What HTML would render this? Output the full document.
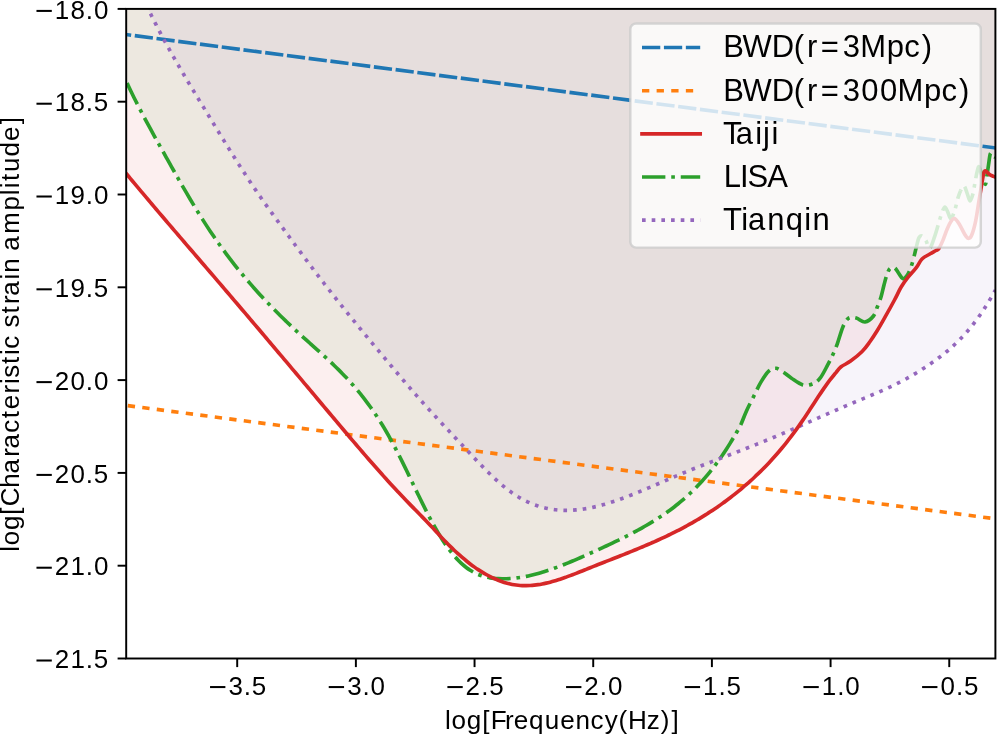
<!DOCTYPE html><html><head><meta charset="utf-8"><style>html,body{margin:0;padding:0;background:#fff;width:997px;height:734px;overflow:hidden}svg{display:block;will-change:transform}text{font-family:"Liberation Sans",sans-serif}</style></head><body>
<svg width="997" height="734" viewBox="0 0 997 734">
<rect width="997" height="734" fill="#fff"/>
<defs><clipPath id="ax"><rect x="126.20" y="8.90" width="869.20" height="649.60"/></clipPath></defs>
<g clip-path="url(#ax)">
<path d="M126.20,81.31 C126.87,82.72 128.87,86.99 130.20,89.76 C131.53,92.53 132.87,95.25 134.20,97.93 C135.53,100.62 136.87,103.25 138.20,105.86 C139.53,108.46 140.87,111.03 142.20,113.57 C143.53,116.11 144.87,118.62 146.20,121.10 C147.53,123.59 148.87,126.05 150.20,128.49 C151.53,130.94 152.87,133.36 154.20,135.77 C155.53,138.19 156.87,140.58 158.20,142.98 C159.53,145.37 160.87,147.75 162.20,150.14 C163.53,152.52 164.87,154.91 166.20,157.29 C167.53,159.67 168.87,162.05 170.20,164.42 C171.53,166.79 172.87,169.16 174.20,171.52 C175.53,173.88 176.87,176.23 178.20,178.57 C179.53,180.91 180.87,183.24 182.20,185.55 C183.53,187.87 184.87,190.17 186.20,192.45 C187.53,194.74 188.87,197.01 190.20,199.26 C191.53,201.50 192.87,203.73 194.20,205.94 C195.53,208.15 196.87,210.33 198.20,212.49 C199.53,214.65 200.87,216.79 202.20,218.89 C203.53,221.00 204.87,223.08 206.20,225.13 C207.53,227.18 208.87,229.20 210.20,231.19 C211.53,233.18 212.87,235.15 214.20,237.09 C215.53,239.03 216.87,240.94 218.20,242.83 C219.53,244.72 220.87,246.58 222.20,248.42 C223.53,250.25 224.87,252.07 226.20,253.86 C227.53,255.64 228.87,257.41 230.20,259.15 C231.53,260.89 232.87,262.61 234.20,264.31 C235.53,266.01 236.87,267.68 238.20,269.34 C239.53,270.99 240.87,272.63 242.20,274.24 C243.53,275.85 244.87,277.44 246.20,279.02 C247.53,280.59 248.87,282.15 250.20,283.68 C251.53,285.22 252.87,286.74 254.20,288.24 C255.53,289.74 256.87,291.22 258.20,292.69 C259.53,294.16 260.87,295.61 262.20,297.04 C263.53,298.47 264.87,299.89 266.20,301.30 C267.53,302.70 268.87,304.09 270.20,305.47 C271.53,306.84 272.87,308.20 274.20,309.55 C275.53,310.90 276.87,312.24 278.20,313.56 C279.53,314.89 280.87,316.20 282.20,317.50 C283.53,318.80 284.87,320.09 286.20,321.37 C287.53,322.65 288.87,323.92 290.20,325.18 C291.53,326.44 292.87,327.69 294.20,328.94 C295.53,330.18 296.87,331.41 298.20,332.64 C299.53,333.87 300.87,335.09 302.20,336.30 C303.53,337.51 304.87,338.72 306.20,339.92 C307.53,341.12 308.87,342.32 310.20,343.51 C311.53,344.71 312.87,345.90 314.20,347.09 C315.53,348.28 316.87,349.47 318.20,350.67 C319.53,351.87 320.87,353.07 322.20,354.28 C323.53,355.50 324.87,356.71 326.20,357.94 C327.53,359.17 328.87,360.41 330.20,361.66 C331.53,362.92 332.87,364.18 334.20,365.47 C335.53,366.76 336.87,368.06 338.20,369.38 C339.53,370.70 340.87,372.05 342.20,373.41 C343.53,374.78 344.87,376.17 346.20,377.59 C347.53,379.01 348.87,380.45 350.20,381.93 C351.53,383.41 352.87,384.91 354.20,386.45 C355.53,387.99 356.87,389.56 358.20,391.17 C359.53,392.78 360.87,394.43 362.20,396.12 C363.53,397.80 364.87,399.53 366.20,401.30 C367.53,403.07 368.87,404.88 370.20,406.74 C371.53,408.60 372.87,410.51 374.20,412.46 C375.53,414.42 376.87,416.42 378.20,418.48 C379.53,420.54 380.87,422.65 382.20,424.82 C383.53,426.99 384.87,429.21 386.20,431.49 C387.53,433.78 388.87,436.12 390.20,438.52 C391.53,440.93 392.87,443.40 394.20,445.92 C395.53,448.45 396.87,451.04 398.20,453.66 C399.53,456.28 400.87,458.95 402.20,461.65 C403.53,464.34 404.87,467.08 406.20,469.82 C407.53,472.56 408.87,475.34 410.20,478.10 C411.53,480.87 412.87,483.66 414.20,486.43 C415.53,489.20 416.87,491.97 418.20,494.72 C419.53,497.46 420.87,500.20 422.20,502.90 C423.53,505.60 424.87,508.28 426.20,510.90 C427.53,513.52 428.87,516.11 430.20,518.63 C431.53,521.14 432.87,523.61 434.20,526.00 C435.53,528.39 436.87,530.70 438.20,532.94 C439.53,535.18 440.87,537.34 442.20,539.41 C443.53,541.49 444.87,543.49 446.20,545.41 C447.53,547.32 448.87,549.15 450.20,550.90 C451.53,552.64 452.87,554.30 454.20,555.87 C455.53,557.44 456.87,558.92 458.20,560.31 C459.53,561.70 460.87,563.00 462.20,564.20 C463.53,565.41 464.87,566.51 466.20,567.53 C467.53,568.56 468.87,569.48 470.20,570.33 C471.53,571.18 472.87,571.94 474.20,572.64 C475.53,573.33 476.87,573.95 478.20,574.50 C479.53,575.05 480.87,575.53 482.20,575.96 C483.53,576.39 484.87,576.75 486.20,577.07 C487.53,577.38 488.87,577.64 490.20,577.86 C491.53,578.08 492.87,578.24 494.20,578.38 C495.53,578.52 496.87,578.61 498.20,578.68 C499.53,578.75 500.87,578.78 502.20,578.79 C503.53,578.81 504.87,578.79 506.20,578.75 C507.53,578.71 508.87,578.64 510.20,578.55 C511.53,578.46 512.87,578.35 514.20,578.21 C515.53,578.07 516.87,577.91 518.20,577.73 C519.53,577.55 520.87,577.34 522.20,577.12 C523.53,576.89 524.87,576.64 526.20,576.38 C527.53,576.11 528.87,575.83 530.20,575.52 C531.53,575.22 532.87,574.90 534.20,574.56 C535.53,574.22 536.87,573.86 538.20,573.49 C539.53,573.11 540.87,572.72 542.20,572.32 C543.53,571.92 544.87,571.49 546.20,571.06 C547.53,570.63 548.87,570.18 550.20,569.72 C551.53,569.26 552.87,568.79 554.20,568.30 C555.53,567.82 556.87,567.32 558.20,566.82 C559.53,566.31 560.87,565.80 562.20,565.27 C563.53,564.75 564.87,564.21 566.20,563.67 C567.53,563.12 568.87,562.57 570.20,562.02 C571.53,561.46 572.87,560.89 574.20,560.32 C575.53,559.75 576.87,559.17 578.20,558.59 C579.53,558.01 580.87,557.43 582.20,556.84 C583.53,556.25 584.87,555.66 586.20,555.06 C587.53,554.47 588.87,553.87 590.20,553.27 C591.53,552.68 592.87,552.08 594.20,551.48 C595.53,550.87 596.87,550.27 598.20,549.66 C599.53,549.06 600.87,548.45 602.20,547.84 C603.53,547.22 604.87,546.61 606.20,545.99 C607.53,545.37 608.87,544.74 610.20,544.11 C611.53,543.49 612.87,542.85 614.20,542.21 C615.53,541.57 616.87,540.93 618.20,540.28 C619.53,539.63 620.87,538.97 622.20,538.31 C623.53,537.65 624.87,536.98 626.20,536.30 C627.53,535.62 628.87,534.94 630.20,534.25 C631.53,533.56 632.87,532.86 634.20,532.15 C635.53,531.44 636.87,530.72 638.20,530.00 C639.53,529.27 640.87,528.54 642.20,527.79 C643.53,527.04 644.87,526.29 646.20,525.52 C647.53,524.75 648.87,523.97 650.20,523.18 C651.53,522.38 652.87,521.58 654.20,520.75 C655.53,519.93 656.87,519.09 658.20,518.23 C659.53,517.37 660.87,516.49 662.20,515.60 C663.53,514.70 664.87,513.79 666.20,512.85 C667.53,511.91 668.87,510.95 670.20,509.97 C671.53,508.99 672.87,507.98 674.20,506.95 C675.53,505.92 676.87,504.86 678.20,503.78 C679.53,502.69 680.87,501.58 682.20,500.44 C683.53,499.30 684.87,498.13 686.20,496.93 C687.53,495.73 688.87,494.50 690.20,493.23 C691.53,491.97 692.87,490.67 694.20,489.34 C695.53,488.00 696.87,486.64 698.20,485.23 C699.53,483.83 700.87,482.39 702.20,480.91 C703.53,479.42 704.87,477.91 706.20,476.35 C707.53,474.79 708.87,473.19 710.20,471.54 C711.53,469.90 712.87,468.22 714.20,466.48 C715.53,464.75 716.87,462.98 718.20,461.14 C719.53,459.31 720.87,457.43 722.20,455.49 C723.53,453.55 724.87,451.56 726.20,449.50 C727.53,447.45 728.87,445.33 730.20,443.15 C731.53,440.97 733.40,437.76 734.20,436.41 C735.00,435.05 734.57,435.74 735.00,435.01 C735.43,434.27 735.82,433.75 736.80,432.00 C737.78,430.25 739.27,428.05 740.90,424.50 C742.53,420.95 744.30,415.72 746.60,410.70 C748.90,405.68 752.32,399.17 754.70,394.40 C757.08,389.63 758.52,386.02 760.90,382.10 C763.28,378.18 766.45,373.20 769.00,370.90 C771.55,368.60 773.73,368.03 776.20,368.30 C778.67,368.57 781.25,370.85 783.80,372.50 C786.35,374.15 788.32,376.13 791.50,378.20 C794.68,380.27 799.42,383.93 802.90,384.90 C806.38,385.87 809.53,385.12 812.40,384.00 C815.27,382.88 817.55,381.38 820.10,378.20 C822.65,375.02 825.48,369.03 827.70,364.90 C829.92,360.77 831.80,356.90 833.40,353.40 C835.00,349.90 835.70,348.35 837.30,343.90 C838.90,339.45 841.10,331.00 843.00,326.70 C844.90,322.40 846.48,319.53 848.70,318.10 C850.92,316.67 853.58,317.45 856.30,318.10 C859.02,318.75 862.13,322.35 865.00,322.00 C867.87,321.65 871.45,318.50 873.50,316.00 C875.55,313.50 876.05,310.17 877.30,307.00 C878.55,303.83 879.88,300.67 881.00,297.00 C882.12,293.33 883.00,288.75 884.00,285.00 C885.00,281.25 886.00,277.25 887.00,274.50 C888.00,271.75 888.75,269.63 890.00,268.50 C891.25,267.37 893.07,266.93 894.50,267.70 C895.93,268.47 897.23,271.28 898.60,273.10 C899.97,274.92 901.33,278.13 902.70,278.60 C904.07,279.07 905.45,277.72 906.80,275.90 C908.15,274.08 909.55,271.12 910.80,267.70 C912.05,264.28 913.38,258.82 914.30,255.40 C915.22,251.98 915.52,250.15 916.30,247.20 C917.08,244.25 918.05,239.57 919.00,237.70 C919.95,235.83 920.87,235.55 922.00,236.00 C923.13,236.45 924.48,238.40 925.80,240.40 C927.12,242.40 928.42,248.68 929.90,248.00 C931.38,247.32 933.22,240.52 934.70,236.30 C936.18,232.08 937.55,226.78 938.80,222.70 C940.05,218.62 941.18,214.42 942.20,211.80 C943.22,209.18 943.98,207.00 944.90,207.00 C945.82,207.00 946.67,209.87 947.70,211.80 C948.73,213.73 949.87,219.07 951.10,218.60 C952.33,218.13 953.97,212.42 955.10,209.00 C956.23,205.58 956.98,201.15 957.90,198.10 C958.82,195.05 959.58,192.73 960.60,190.70 C961.62,188.67 962.87,185.33 964.00,185.90 C965.13,186.47 966.38,191.60 967.40,194.10 C968.42,196.60 969.18,200.90 970.10,200.90 C971.02,200.90 972.10,197.05 972.90,194.10 C973.70,191.15 974.22,186.83 974.90,183.20 C975.58,179.57 976.32,175.03 977.00,172.30 C977.68,169.57 978.22,166.35 979.00,166.80 C979.78,167.25 980.67,172.08 981.70,175.00 C982.73,177.92 984.33,184.13 985.20,184.30 C986.07,184.47 986.35,179.22 986.90,176.00 C987.45,172.78 987.97,168.58 988.50,165.00 C989.03,161.42 989.58,156.47 990.10,154.50 C990.62,152.53 991.05,152.95 991.60,153.20 C992.15,153.45 992.77,155.28 993.40,156.00 C994.03,156.72 995.07,157.25 995.40,157.50 L995.40,6.90 L126.20,6.90 Z" fill="#2ca02c" fill-opacity="0.075"/>
<path d="M126.20,173.50 C126.87,174.30 128.87,176.71 130.20,178.32 C131.53,179.92 132.87,181.52 134.20,183.12 C135.53,184.72 136.87,186.31 138.20,187.90 C139.53,189.50 140.87,191.08 142.20,192.67 C143.53,194.26 144.87,195.84 146.20,197.42 C147.53,199.00 148.87,200.58 150.20,202.16 C151.53,203.73 152.87,205.31 154.20,206.88 C155.53,208.45 156.87,210.02 158.20,211.59 C159.53,213.16 160.87,214.73 162.20,216.29 C163.53,217.86 164.87,219.42 166.20,220.98 C167.53,222.54 168.87,224.10 170.20,225.66 C171.53,227.22 172.87,228.78 174.20,230.34 C175.53,231.89 176.87,233.45 178.20,235.00 C179.53,236.56 180.87,238.11 182.20,239.67 C183.53,241.22 184.87,242.77 186.20,244.32 C187.53,245.88 188.87,247.43 190.20,248.98 C191.53,250.53 192.87,252.08 194.20,253.63 C195.53,255.18 196.87,256.73 198.20,258.28 C199.53,259.84 200.87,261.39 202.20,262.94 C203.53,264.49 204.87,266.04 206.20,267.59 C207.53,269.15 208.87,270.70 210.20,272.25 C211.53,273.81 212.87,275.36 214.20,276.91 C215.53,278.47 216.87,280.03 218.20,281.58 C219.53,283.14 220.87,284.70 222.20,286.26 C223.53,287.82 224.87,289.38 226.20,290.94 C227.53,292.50 228.87,294.06 230.20,295.62 C231.53,297.18 232.87,298.75 234.20,300.31 C235.53,301.87 236.87,303.44 238.20,305.01 C239.53,306.57 240.87,308.14 242.20,309.71 C243.53,311.27 244.87,312.84 246.20,314.41 C247.53,315.98 248.87,317.55 250.20,319.12 C251.53,320.69 252.87,322.26 254.20,323.83 C255.53,325.41 256.87,326.98 258.20,328.55 C259.53,330.13 260.87,331.70 262.20,333.27 C263.53,334.85 264.87,336.42 266.20,338.00 C267.53,339.58 268.87,341.15 270.20,342.73 C271.53,344.31 272.87,345.88 274.20,347.46 C275.53,349.04 276.87,350.62 278.20,352.20 C279.53,353.78 280.87,355.36 282.20,356.94 C283.53,358.52 284.87,360.10 286.20,361.68 C287.53,363.26 288.87,364.84 290.20,366.43 C291.53,368.01 292.87,369.59 294.20,371.17 C295.53,372.76 296.87,374.34 298.20,375.93 C299.53,377.51 300.87,379.09 302.20,380.68 C303.53,382.26 304.87,383.85 306.20,385.43 C307.53,387.02 308.87,388.60 310.20,390.19 C311.53,391.78 312.87,393.36 314.20,394.95 C315.53,396.53 316.87,398.12 318.20,399.71 C319.53,401.29 320.87,402.88 322.20,404.47 C323.53,406.06 324.87,407.64 326.20,409.23 C327.53,410.82 328.87,412.41 330.20,413.99 C331.53,415.58 332.87,417.17 334.20,418.76 C335.53,420.34 336.87,421.93 338.20,423.51 C339.53,425.09 340.87,426.68 342.20,428.26 C343.53,429.84 344.87,431.42 346.20,432.99 C347.53,434.57 348.87,436.14 350.20,437.71 C351.53,439.28 352.87,440.85 354.20,442.42 C355.53,443.98 356.87,445.54 358.20,447.10 C359.53,448.65 360.87,450.21 362.20,451.76 C363.53,453.30 364.87,454.85 366.20,456.39 C367.53,457.92 368.87,459.46 370.20,460.99 C371.53,462.51 372.87,464.04 374.20,465.55 C375.53,467.07 376.87,468.58 378.20,470.08 C379.53,471.59 380.87,473.08 382.20,474.57 C383.53,476.06 384.87,477.55 386.20,479.02 C387.53,480.49 388.87,481.96 390.20,483.42 C391.53,484.88 392.87,486.33 394.20,487.77 C395.53,489.22 396.87,490.65 398.20,492.07 C399.53,493.50 400.87,494.91 402.20,496.32 C403.53,497.72 404.87,499.12 406.20,500.50 C407.53,501.89 408.87,503.26 410.20,504.63 C411.53,506.00 412.87,507.35 414.20,508.71 C415.53,510.07 416.87,511.42 418.20,512.78 C419.53,514.13 420.87,515.49 422.20,516.85 C423.53,518.22 424.87,519.59 426.20,520.97 C427.53,522.36 428.87,523.75 430.20,525.16 C431.53,526.57 432.87,528.01 434.20,529.45 C435.53,530.88 436.87,532.35 438.20,533.80 C439.53,535.24 440.87,536.70 442.20,538.13 C443.53,539.55 444.87,540.96 446.20,542.34 C447.53,543.72 448.87,545.07 450.20,546.39 C451.53,547.71 452.87,549.00 454.20,550.26 C455.53,551.52 456.87,552.75 458.20,553.95 C459.53,555.15 460.87,556.33 462.20,557.46 C463.53,558.60 464.87,559.71 466.20,560.79 C467.53,561.87 468.87,562.91 470.20,563.93 C471.53,564.94 472.87,565.92 474.20,566.87 C475.53,567.81 476.87,568.73 478.20,569.61 C479.53,570.49 480.87,571.34 482.20,572.15 C483.53,572.96 484.87,573.74 486.20,574.48 C487.53,575.23 488.87,575.94 490.20,576.61 C491.53,577.28 492.87,577.92 494.20,578.52 C495.53,579.12 496.87,579.68 498.20,580.21 C499.53,580.74 500.87,581.23 502.20,581.68 C503.53,582.13 504.87,582.55 506.20,582.93 C507.53,583.30 508.87,583.64 510.20,583.94 C511.53,584.24 512.87,584.50 514.20,584.72 C515.53,584.94 516.87,585.12 518.20,585.26 C519.53,585.40 520.87,585.50 522.20,585.57 C523.53,585.63 524.87,585.66 526.20,585.65 C527.53,585.64 528.87,585.59 530.20,585.51 C531.53,585.43 532.87,585.32 534.20,585.18 C535.53,585.04 536.87,584.87 538.20,584.67 C539.53,584.47 540.87,584.23 542.20,583.98 C543.53,583.73 544.87,583.44 546.20,583.14 C547.53,582.84 548.87,582.51 550.20,582.16 C551.53,581.81 552.87,581.44 554.20,581.05 C555.53,580.67 556.87,580.26 558.20,579.83 C559.53,579.41 560.87,578.97 562.20,578.52 C563.53,578.06 564.87,577.59 566.20,577.11 C567.53,576.64 568.87,576.14 570.20,575.64 C571.53,575.14 572.87,574.63 574.20,574.12 C575.53,573.60 576.87,573.07 578.20,572.55 C579.53,572.02 580.87,571.49 582.20,570.95 C583.53,570.42 584.87,569.88 586.20,569.34 C587.53,568.81 588.87,568.27 590.20,567.74 C591.53,567.20 592.87,566.67 594.20,566.14 C595.53,565.61 596.87,565.08 598.20,564.56 C599.53,564.03 600.87,563.51 602.20,562.98 C603.53,562.46 604.87,561.94 606.20,561.41 C607.53,560.89 608.87,560.37 610.20,559.85 C611.53,559.32 612.87,558.80 614.20,558.28 C615.53,557.75 616.87,557.23 618.20,556.70 C619.53,556.18 620.87,555.65 622.20,555.12 C623.53,554.59 624.87,554.06 626.20,553.53 C627.53,552.99 628.87,552.46 630.20,551.92 C631.53,551.38 632.87,550.84 634.20,550.30 C635.53,549.75 636.87,549.20 638.20,548.65 C639.53,548.10 640.87,547.54 642.20,546.98 C643.53,546.42 644.87,545.86 646.20,545.29 C647.53,544.72 648.87,544.14 650.20,543.56 C651.53,542.98 652.87,542.39 654.20,541.80 C655.53,541.21 656.87,540.61 658.20,540.00 C659.53,539.40 660.87,538.79 662.20,538.17 C663.53,537.55 664.87,536.92 666.20,536.29 C667.53,535.65 668.87,535.01 670.20,534.36 C671.53,533.71 672.87,533.05 674.20,532.39 C675.53,531.72 676.87,531.04 678.20,530.36 C679.53,529.67 680.87,528.98 682.20,528.27 C683.53,527.57 684.87,526.85 686.20,526.13 C687.53,525.40 688.87,524.67 690.20,523.92 C691.53,523.18 692.87,522.42 694.20,521.65 C695.53,520.88 696.87,520.10 698.20,519.31 C699.53,518.52 700.87,517.71 702.20,516.89 C703.53,516.08 704.87,515.25 706.20,514.41 C707.53,513.56 708.87,512.71 710.20,511.84 C711.53,510.97 712.87,510.09 714.20,509.19 C715.53,508.29 716.87,507.38 718.20,506.46 C719.53,505.53 720.87,504.59 722.20,503.63 C723.53,502.68 724.87,501.71 726.20,500.72 C727.53,499.73 728.87,498.73 730.20,497.71 C731.53,496.69 732.87,495.66 734.20,494.60 C735.53,493.55 736.87,492.48 738.20,491.40 C739.53,490.31 740.87,489.21 742.20,488.08 C743.53,486.96 744.87,485.82 746.20,484.66 C747.53,483.50 748.87,482.32 750.20,481.12 C751.53,479.92 752.87,478.70 754.20,477.46 C755.53,476.22 756.87,474.95 758.20,473.66 C759.53,472.38 760.87,471.07 762.20,469.73 C763.53,468.39 764.87,467.04 766.20,465.65 C767.53,464.26 768.87,462.85 770.20,461.42 C771.53,459.98 772.87,458.51 774.20,457.02 C775.53,455.53 776.87,454.01 778.20,452.46 C779.53,450.91 780.87,449.33 782.20,447.72 C783.53,446.11 784.87,444.47 786.20,442.80 C787.53,441.13 788.87,439.43 790.20,437.69 C791.53,435.95 792.87,434.19 794.20,432.38 C795.53,430.58 796.87,428.74 798.20,426.87 C799.53,425.00 800.87,423.09 802.20,421.15 C803.53,419.21 804.87,417.22 806.20,415.21 C807.53,413.21 808.87,411.16 810.20,409.12 C811.53,407.07 812.87,405.01 814.20,402.96 C815.53,400.92 816.87,398.86 818.20,396.85 C819.53,394.83 820.87,392.82 822.20,390.87 C823.53,388.91 824.87,386.98 826.20,385.12 C827.53,383.26 828.87,381.44 830.20,379.70 C831.53,377.97 833.23,375.90 834.20,374.72 C835.17,373.54 834.85,373.96 836.00,372.64 C837.15,371.32 838.67,368.72 841.10,366.80 C843.53,364.88 847.10,363.65 850.60,361.10 C854.10,358.55 858.92,354.68 862.10,351.50 C865.28,348.32 867.17,345.50 869.70,342.00 C872.23,338.50 874.75,334.63 877.30,330.50 C879.85,326.37 882.13,322.28 885.00,317.20 C887.87,312.12 891.78,305.07 894.50,300.00 C897.22,294.93 899.03,290.60 901.30,286.80 C903.57,283.00 905.60,280.38 908.10,277.20 C910.60,274.02 913.98,270.73 916.30,267.70 C918.62,264.67 919.73,261.28 922.00,259.00 C924.27,256.72 927.57,255.42 929.90,254.00 C932.23,252.58 934.52,251.40 936.00,250.50 C937.48,249.60 937.65,250.28 938.80,248.60 C939.95,246.92 941.53,243.58 942.90,240.40 C944.27,237.22 945.63,232.68 947.00,229.50 C948.37,226.32 949.85,223.12 951.10,221.30 C952.35,219.48 953.15,218.15 954.50,218.60 C955.85,219.05 957.50,221.38 959.20,224.00 C960.90,226.62 963.22,231.92 964.70,234.30 C966.18,236.68 966.97,238.08 968.10,238.30 C969.23,238.52 970.25,238.43 971.50,235.60 C972.75,232.77 974.35,227.08 975.60,221.30 C976.85,215.52 977.98,207.03 979.00,200.90 C980.02,194.77 980.90,189.17 981.70,184.50 C982.50,179.83 983.12,175.17 983.80,172.90 C984.48,170.63 984.90,170.67 985.80,170.90 C986.70,171.13 987.95,173.40 989.20,174.30 C990.45,175.20 992.27,175.85 993.30,176.30 C994.33,176.75 995.05,176.88 995.40,177.00 L995.40,6.90 L126.20,6.90 Z" fill="#d62728" fill-opacity="0.075"/>
<path d="M147.90,8.42 C148.57,9.77 150.57,13.86 151.90,16.53 C153.23,19.20 154.57,21.82 155.90,24.42 C157.23,27.01 158.57,29.57 159.90,32.09 C161.23,34.62 162.57,37.11 163.90,39.58 C165.23,42.05 166.57,44.48 167.90,46.90 C169.23,49.31 170.57,51.69 171.90,54.06 C173.23,56.42 174.57,58.76 175.90,61.08 C177.23,63.40 178.57,65.70 179.90,67.99 C181.23,70.27 182.57,72.54 183.90,74.79 C185.23,77.05 186.57,79.29 187.90,81.52 C189.23,83.74 190.57,85.96 191.90,88.17 C193.23,90.38 194.57,92.58 195.90,94.78 C197.23,96.98 198.57,99.17 199.90,101.36 C201.23,103.55 202.57,105.73 203.90,107.92 C205.23,110.11 206.57,112.30 207.90,114.49 C209.23,116.68 210.57,118.87 211.90,121.05 C213.23,123.24 214.57,125.42 215.90,127.60 C217.23,129.78 218.57,131.96 219.90,134.13 C221.23,136.31 222.57,138.47 223.90,140.63 C225.23,142.79 226.57,144.95 227.90,147.09 C229.23,149.24 230.57,151.38 231.90,153.50 C233.23,155.63 234.57,157.75 235.90,159.85 C237.23,161.96 238.57,164.05 239.90,166.13 C241.23,168.21 242.57,170.28 243.90,172.34 C245.23,174.39 246.57,176.43 247.90,178.45 C249.23,180.47 250.57,182.48 251.90,184.47 C253.23,186.46 254.57,188.43 255.90,190.38 C257.23,192.34 258.57,194.28 259.90,196.20 C261.23,198.13 262.57,200.04 263.90,201.93 C265.23,203.83 266.57,205.71 267.90,207.58 C269.23,209.45 270.57,211.31 271.90,213.15 C273.23,215.00 274.57,216.84 275.90,218.67 C277.23,220.51 278.57,222.33 279.90,224.15 C281.23,225.98 282.57,227.80 283.90,229.62 C285.23,231.44 286.57,233.26 287.90,235.07 C289.23,236.89 290.57,238.71 291.90,240.53 C293.23,242.34 294.57,244.16 295.90,245.97 C297.23,247.78 298.57,249.59 299.90,251.39 C301.23,253.20 302.57,255.00 303.90,256.79 C305.23,258.59 306.57,260.38 307.90,262.16 C309.23,263.95 310.57,265.73 311.90,267.50 C313.23,269.27 314.57,271.04 315.90,272.80 C317.23,274.55 318.57,276.31 319.90,278.05 C321.23,279.79 322.57,281.52 323.90,283.25 C325.23,284.97 326.57,286.69 327.90,288.40 C329.23,290.11 330.57,291.82 331.90,293.51 C333.23,295.21 334.57,296.90 335.90,298.58 C337.23,300.27 338.57,301.94 339.90,303.61 C341.23,305.29 342.57,306.95 343.90,308.61 C345.23,310.27 346.57,311.92 347.90,313.57 C349.23,315.22 350.57,316.87 351.90,318.51 C353.23,320.15 354.57,321.78 355.90,323.41 C357.23,325.04 358.57,326.67 359.90,328.29 C361.23,329.91 362.57,331.53 363.90,333.15 C365.23,334.77 366.57,336.38 367.90,337.99 C369.23,339.60 370.57,341.20 371.90,342.81 C373.23,344.41 374.57,346.02 375.90,347.62 C377.23,349.22 378.57,350.81 379.90,352.41 C381.23,354.01 382.57,355.60 383.90,357.20 C385.23,358.79 386.57,360.39 387.90,361.98 C389.23,363.57 390.57,365.16 391.90,366.75 C393.23,368.34 394.57,369.92 395.90,371.50 C397.23,373.09 398.57,374.66 399.90,376.24 C401.23,377.81 402.57,379.38 403.90,380.95 C405.23,382.51 406.57,384.07 407.90,385.62 C409.23,387.17 410.57,388.72 411.90,390.26 C413.23,391.80 414.57,393.33 415.90,394.85 C417.23,396.37 418.57,397.89 419.90,399.39 C421.23,400.90 422.57,402.39 423.90,403.88 C425.23,405.36 426.57,406.84 427.90,408.31 C429.23,409.77 430.57,411.23 431.90,412.69 C433.23,414.14 434.57,415.58 435.90,417.03 C437.23,418.47 438.57,419.90 439.90,421.33 C441.23,422.76 442.57,424.19 443.90,425.61 C445.23,427.03 446.57,428.45 447.90,429.87 C449.23,431.29 450.57,432.71 451.90,434.13 C453.23,435.54 454.57,436.96 455.90,438.38 C457.23,439.79 458.57,441.21 459.90,442.63 C461.23,444.05 462.57,445.48 463.90,446.90 C465.23,448.33 466.57,449.76 467.90,451.18 C469.23,452.61 470.57,454.04 471.90,455.46 C473.23,456.88 474.57,458.30 475.90,459.70 C477.23,461.11 478.57,462.51 479.90,463.89 C481.23,465.27 482.57,466.65 483.90,468.00 C485.23,469.36 486.57,470.70 487.90,472.01 C489.23,473.33 490.57,474.63 491.90,475.91 C493.23,477.18 494.57,478.43 495.90,479.65 C497.23,480.87 498.57,482.07 499.90,483.23 C501.23,484.39 502.57,485.53 503.90,486.62 C505.23,487.72 506.57,488.78 507.90,489.80 C509.23,490.82 510.57,491.80 511.90,492.74 C513.23,493.68 514.57,494.57 515.90,495.43 C517.23,496.28 518.57,497.10 519.90,497.87 C521.23,498.64 522.57,499.37 523.90,500.07 C525.23,500.76 526.57,501.41 527.90,502.03 C529.23,502.64 530.57,503.22 531.90,503.76 C533.23,504.31 534.57,504.81 535.90,505.28 C537.23,505.75 538.57,506.18 539.90,506.58 C541.23,506.98 542.57,507.34 543.90,507.68 C545.23,508.01 546.57,508.31 547.90,508.57 C549.23,508.84 550.57,509.08 551.90,509.28 C553.23,509.49 554.57,509.66 555.90,509.81 C557.23,509.95 558.57,510.07 559.90,510.16 C561.23,510.24 562.57,510.30 563.90,510.34 C565.23,510.37 566.57,510.37 567.90,510.35 C569.23,510.33 570.57,510.29 571.90,510.22 C573.23,510.15 574.57,510.06 575.90,509.94 C577.23,509.82 578.57,509.68 579.90,509.52 C581.23,509.36 582.57,509.17 583.90,508.97 C585.23,508.76 586.57,508.54 587.90,508.29 C589.23,508.05 590.57,507.78 591.90,507.50 C593.23,507.22 594.57,506.91 595.90,506.60 C597.23,506.28 598.57,505.94 599.90,505.59 C601.23,505.24 602.57,504.87 603.90,504.49 C605.23,504.11 606.57,503.71 607.90,503.31 C609.23,502.90 610.57,502.47 611.90,502.04 C613.23,501.61 614.57,501.16 615.90,500.70 C617.23,500.24 618.57,499.78 619.90,499.30 C621.23,498.82 622.57,498.33 623.90,497.84 C625.23,497.34 626.57,496.84 627.90,496.32 C629.23,495.81 630.57,495.29 631.90,494.76 C633.23,494.24 634.57,493.70 635.90,493.16 C637.23,492.62 638.57,492.08 639.90,491.53 C641.23,490.98 642.57,490.42 643.90,489.86 C645.23,489.30 646.57,488.74 647.90,488.17 C649.23,487.61 650.57,487.04 651.90,486.46 C653.23,485.89 654.57,485.32 655.90,484.74 C657.23,484.17 658.57,483.59 659.90,483.01 C661.23,482.43 662.57,481.85 663.90,481.28 C665.23,480.70 666.57,480.12 667.90,479.55 C669.23,478.97 670.57,478.40 671.90,477.82 C673.23,477.25 674.57,476.68 675.90,476.12 C677.23,475.55 678.57,474.99 679.90,474.43 C681.23,473.87 682.57,473.31 683.90,472.76 C685.23,472.21 686.57,471.66 687.90,471.12 C689.23,470.58 690.57,470.04 691.90,469.50 C693.23,468.97 694.57,468.43 695.90,467.91 C697.23,467.38 698.57,466.85 699.90,466.33 C701.23,465.80 702.57,465.28 703.90,464.76 C705.23,464.24 706.57,463.72 707.90,463.21 C709.23,462.69 710.57,462.18 711.90,461.66 C713.23,461.15 714.57,460.64 715.90,460.13 C717.23,459.62 718.57,459.11 719.90,458.60 C721.23,458.09 722.57,457.58 723.90,457.07 C725.23,456.55 726.57,456.04 727.90,455.53 C729.23,455.02 730.57,454.51 731.90,454.00 C733.23,453.49 734.57,452.97 735.90,452.46 C737.23,451.94 738.57,451.42 739.90,450.91 C741.23,450.39 742.57,449.87 743.90,449.35 C745.23,448.82 746.57,448.30 747.90,447.77 C749.23,447.25 750.57,446.72 751.90,446.19 C753.23,445.66 754.57,445.13 755.90,444.60 C757.23,444.06 758.57,443.53 759.90,442.99 C761.23,442.45 762.57,441.91 763.90,441.37 C765.23,440.82 766.57,440.28 767.90,439.73 C769.23,439.18 770.57,438.63 771.90,438.08 C773.23,437.53 774.57,436.97 775.90,436.42 C777.23,435.86 778.57,435.30 779.90,434.73 C781.23,434.17 782.57,433.60 783.90,433.04 C785.23,432.47 786.57,431.89 787.90,431.32 C789.23,430.74 790.57,430.17 791.90,429.59 C793.23,429.01 794.57,428.42 795.90,427.83 C797.23,427.25 798.57,426.66 799.90,426.07 C801.23,425.48 802.57,424.89 803.90,424.30 C805.23,423.70 806.57,423.11 807.90,422.52 C809.23,421.93 810.57,421.33 811.90,420.74 C813.23,420.15 814.57,419.55 815.90,418.96 C817.23,418.37 818.57,417.78 819.90,417.19 C821.23,416.61 822.57,416.02 823.90,415.43 C825.23,414.85 826.57,414.27 827.90,413.68 C829.23,413.10 830.57,412.52 831.90,411.94 C833.23,411.36 834.57,410.78 835.90,410.21 C837.23,409.63 838.57,409.06 839.90,408.48 C841.23,407.91 842.57,407.34 843.90,406.77 C845.23,406.20 846.57,405.63 847.90,405.06 C849.23,404.50 850.57,403.93 851.90,403.37 C853.23,402.81 854.57,402.24 855.90,401.68 C857.23,401.12 858.57,400.56 859.90,400.01 C861.23,399.45 862.57,398.89 863.90,398.34 C865.23,397.78 866.57,397.23 867.90,396.67 C869.23,396.12 870.57,395.56 871.90,395.00 C873.23,394.44 874.57,393.88 875.90,393.31 C877.23,392.74 878.57,392.17 879.90,391.59 C881.23,391.01 882.57,390.43 883.90,389.83 C885.23,389.24 886.57,388.64 887.90,388.03 C889.23,387.41 890.57,386.80 891.90,386.16 C893.23,385.53 894.57,384.89 895.90,384.23 C897.23,383.57 898.57,382.90 899.90,382.22 C901.23,381.53 902.57,380.83 903.90,380.12 C905.23,379.40 906.57,378.67 907.90,377.92 C909.23,377.17 910.57,376.40 911.90,375.62 C913.23,374.84 914.57,374.04 915.90,373.23 C917.23,372.41 918.57,371.58 919.90,370.74 C921.23,369.90 922.57,369.04 923.90,368.17 C925.23,367.30 926.57,366.41 927.90,365.51 C929.23,364.61 930.57,363.70 931.90,362.77 C933.23,361.84 934.57,360.89 935.90,359.93 C937.23,358.96 938.57,357.97 939.90,356.96 C941.23,355.94 942.57,354.91 943.90,353.84 C945.23,352.77 946.57,351.68 947.90,350.55 C949.23,349.42 950.57,348.26 951.90,347.06 C953.23,345.86 954.57,344.63 955.90,343.35 C957.23,342.08 958.57,340.77 959.90,339.41 C961.23,338.04 962.57,336.64 963.90,335.19 C965.23,333.74 966.57,332.24 967.90,330.69 C969.23,329.13 970.57,327.53 971.90,325.87 C973.23,324.21 974.57,322.50 975.90,320.72 C977.23,318.94 978.57,317.11 979.90,315.21 C981.23,313.31 982.57,311.35 983.90,309.32 C985.23,307.29 986.57,305.19 987.90,303.02 C989.23,300.85 990.65,298.46 991.90,296.29 C993.15,294.13 994.82,291.08 995.40,290.04 L995.40,6.90 L147.90,6.90 Z" fill="#9467bd" fill-opacity="0.075"/>
<line x1="124.20" y1="34.28" x2="997.40" y2="148.15" stroke="#1f77b4" stroke-width="3.65" stroke-dasharray="18.27 3.65" stroke-dashoffset="11.25"/>
<line x1="124.20" y1="405.18" x2="997.40" y2="519.05" stroke="#ff7f0e" stroke-width="3.65" stroke-dasharray="7.31 7.31" stroke-dashoffset="11.01"/>
<path d="M126.20,81.31 C126.87,82.72 128.87,86.99 130.20,89.76 C131.53,92.53 132.87,95.25 134.20,97.93 C135.53,100.62 136.87,103.25 138.20,105.86 C139.53,108.46 140.87,111.03 142.20,113.57 C143.53,116.11 144.87,118.62 146.20,121.10 C147.53,123.59 148.87,126.05 150.20,128.49 C151.53,130.94 152.87,133.36 154.20,135.77 C155.53,138.19 156.87,140.58 158.20,142.98 C159.53,145.37 160.87,147.75 162.20,150.14 C163.53,152.52 164.87,154.91 166.20,157.29 C167.53,159.67 168.87,162.05 170.20,164.42 C171.53,166.79 172.87,169.16 174.20,171.52 C175.53,173.88 176.87,176.23 178.20,178.57 C179.53,180.91 180.87,183.24 182.20,185.55 C183.53,187.87 184.87,190.17 186.20,192.45 C187.53,194.74 188.87,197.01 190.20,199.26 C191.53,201.50 192.87,203.73 194.20,205.94 C195.53,208.15 196.87,210.33 198.20,212.49 C199.53,214.65 200.87,216.79 202.20,218.89 C203.53,221.00 204.87,223.08 206.20,225.13 C207.53,227.18 208.87,229.20 210.20,231.19 C211.53,233.18 212.87,235.15 214.20,237.09 C215.53,239.03 216.87,240.94 218.20,242.83 C219.53,244.72 220.87,246.58 222.20,248.42 C223.53,250.25 224.87,252.07 226.20,253.86 C227.53,255.64 228.87,257.41 230.20,259.15 C231.53,260.89 232.87,262.61 234.20,264.31 C235.53,266.01 236.87,267.68 238.20,269.34 C239.53,270.99 240.87,272.63 242.20,274.24 C243.53,275.85 244.87,277.44 246.20,279.02 C247.53,280.59 248.87,282.15 250.20,283.68 C251.53,285.22 252.87,286.74 254.20,288.24 C255.53,289.74 256.87,291.22 258.20,292.69 C259.53,294.16 260.87,295.61 262.20,297.04 C263.53,298.47 264.87,299.89 266.20,301.30 C267.53,302.70 268.87,304.09 270.20,305.47 C271.53,306.84 272.87,308.20 274.20,309.55 C275.53,310.90 276.87,312.24 278.20,313.56 C279.53,314.89 280.87,316.20 282.20,317.50 C283.53,318.80 284.87,320.09 286.20,321.37 C287.53,322.65 288.87,323.92 290.20,325.18 C291.53,326.44 292.87,327.69 294.20,328.94 C295.53,330.18 296.87,331.41 298.20,332.64 C299.53,333.87 300.87,335.09 302.20,336.30 C303.53,337.51 304.87,338.72 306.20,339.92 C307.53,341.12 308.87,342.32 310.20,343.51 C311.53,344.71 312.87,345.90 314.20,347.09 C315.53,348.28 316.87,349.47 318.20,350.67 C319.53,351.87 320.87,353.07 322.20,354.28 C323.53,355.50 324.87,356.71 326.20,357.94 C327.53,359.17 328.87,360.41 330.20,361.66 C331.53,362.92 332.87,364.18 334.20,365.47 C335.53,366.76 336.87,368.06 338.20,369.38 C339.53,370.70 340.87,372.05 342.20,373.41 C343.53,374.78 344.87,376.17 346.20,377.59 C347.53,379.01 348.87,380.45 350.20,381.93 C351.53,383.41 352.87,384.91 354.20,386.45 C355.53,387.99 356.87,389.56 358.20,391.17 C359.53,392.78 360.87,394.43 362.20,396.12 C363.53,397.80 364.87,399.53 366.20,401.30 C367.53,403.07 368.87,404.88 370.20,406.74 C371.53,408.60 372.87,410.51 374.20,412.46 C375.53,414.42 376.87,416.42 378.20,418.48 C379.53,420.54 380.87,422.65 382.20,424.82 C383.53,426.99 384.87,429.21 386.20,431.49 C387.53,433.78 388.87,436.12 390.20,438.52 C391.53,440.93 392.87,443.40 394.20,445.92 C395.53,448.45 396.87,451.04 398.20,453.66 C399.53,456.28 400.87,458.95 402.20,461.65 C403.53,464.34 404.87,467.08 406.20,469.82 C407.53,472.56 408.87,475.34 410.20,478.10 C411.53,480.87 412.87,483.66 414.20,486.43 C415.53,489.20 416.87,491.97 418.20,494.72 C419.53,497.46 420.87,500.20 422.20,502.90 C423.53,505.60 424.87,508.28 426.20,510.90 C427.53,513.52 428.87,516.11 430.20,518.63 C431.53,521.14 432.87,523.61 434.20,526.00 C435.53,528.39 436.87,530.70 438.20,532.94 C439.53,535.18 440.87,537.34 442.20,539.41 C443.53,541.49 444.87,543.49 446.20,545.41 C447.53,547.32 448.87,549.15 450.20,550.90 C451.53,552.64 452.87,554.30 454.20,555.87 C455.53,557.44 456.87,558.92 458.20,560.31 C459.53,561.70 460.87,563.00 462.20,564.20 C463.53,565.41 464.87,566.51 466.20,567.53 C467.53,568.56 468.87,569.48 470.20,570.33 C471.53,571.18 472.87,571.94 474.20,572.64 C475.53,573.33 476.87,573.95 478.20,574.50 C479.53,575.05 480.87,575.53 482.20,575.96 C483.53,576.39 484.87,576.75 486.20,577.07 C487.53,577.38 488.87,577.64 490.20,577.86 C491.53,578.08 492.87,578.24 494.20,578.38 C495.53,578.52 496.87,578.61 498.20,578.68 C499.53,578.75 500.87,578.78 502.20,578.79 C503.53,578.81 504.87,578.79 506.20,578.75 C507.53,578.71 508.87,578.64 510.20,578.55 C511.53,578.46 512.87,578.35 514.20,578.21 C515.53,578.07 516.87,577.91 518.20,577.73 C519.53,577.55 520.87,577.34 522.20,577.12 C523.53,576.89 524.87,576.64 526.20,576.38 C527.53,576.11 528.87,575.83 530.20,575.52 C531.53,575.22 532.87,574.90 534.20,574.56 C535.53,574.22 536.87,573.86 538.20,573.49 C539.53,573.11 540.87,572.72 542.20,572.32 C543.53,571.92 544.87,571.49 546.20,571.06 C547.53,570.63 548.87,570.18 550.20,569.72 C551.53,569.26 552.87,568.79 554.20,568.30 C555.53,567.82 556.87,567.32 558.20,566.82 C559.53,566.31 560.87,565.80 562.20,565.27 C563.53,564.75 564.87,564.21 566.20,563.67 C567.53,563.12 568.87,562.57 570.20,562.02 C571.53,561.46 572.87,560.89 574.20,560.32 C575.53,559.75 576.87,559.17 578.20,558.59 C579.53,558.01 580.87,557.43 582.20,556.84 C583.53,556.25 584.87,555.66 586.20,555.06 C587.53,554.47 588.87,553.87 590.20,553.27 C591.53,552.68 592.87,552.08 594.20,551.48 C595.53,550.87 596.87,550.27 598.20,549.66 C599.53,549.06 600.87,548.45 602.20,547.84 C603.53,547.22 604.87,546.61 606.20,545.99 C607.53,545.37 608.87,544.74 610.20,544.11 C611.53,543.49 612.87,542.85 614.20,542.21 C615.53,541.57 616.87,540.93 618.20,540.28 C619.53,539.63 620.87,538.97 622.20,538.31 C623.53,537.65 624.87,536.98 626.20,536.30 C627.53,535.62 628.87,534.94 630.20,534.25 C631.53,533.56 632.87,532.86 634.20,532.15 C635.53,531.44 636.87,530.72 638.20,530.00 C639.53,529.27 640.87,528.54 642.20,527.79 C643.53,527.04 644.87,526.29 646.20,525.52 C647.53,524.75 648.87,523.97 650.20,523.18 C651.53,522.38 652.87,521.58 654.20,520.75 C655.53,519.93 656.87,519.09 658.20,518.23 C659.53,517.37 660.87,516.49 662.20,515.60 C663.53,514.70 664.87,513.79 666.20,512.85 C667.53,511.91 668.87,510.95 670.20,509.97 C671.53,508.99 672.87,507.98 674.20,506.95 C675.53,505.92 676.87,504.86 678.20,503.78 C679.53,502.69 680.87,501.58 682.20,500.44 C683.53,499.30 684.87,498.13 686.20,496.93 C687.53,495.73 688.87,494.50 690.20,493.23 C691.53,491.97 692.87,490.67 694.20,489.34 C695.53,488.00 696.87,486.64 698.20,485.23 C699.53,483.83 700.87,482.39 702.20,480.91 C703.53,479.42 704.87,477.91 706.20,476.35 C707.53,474.79 708.87,473.19 710.20,471.54 C711.53,469.90 712.87,468.22 714.20,466.48 C715.53,464.75 716.87,462.98 718.20,461.14 C719.53,459.31 720.87,457.43 722.20,455.49 C723.53,453.55 724.87,451.56 726.20,449.50 C727.53,447.45 728.87,445.33 730.20,443.15 C731.53,440.97 733.40,437.76 734.20,436.41 C735.00,435.05 734.57,435.74 735.00,435.01 C735.43,434.27 735.82,433.75 736.80,432.00 C737.78,430.25 739.27,428.05 740.90,424.50 C742.53,420.95 744.30,415.72 746.60,410.70 C748.90,405.68 752.32,399.17 754.70,394.40 C757.08,389.63 758.52,386.02 760.90,382.10 C763.28,378.18 766.45,373.20 769.00,370.90 C771.55,368.60 773.73,368.03 776.20,368.30 C778.67,368.57 781.25,370.85 783.80,372.50 C786.35,374.15 788.32,376.13 791.50,378.20 C794.68,380.27 799.42,383.93 802.90,384.90 C806.38,385.87 809.53,385.12 812.40,384.00 C815.27,382.88 817.55,381.38 820.10,378.20 C822.65,375.02 825.48,369.03 827.70,364.90 C829.92,360.77 831.80,356.90 833.40,353.40 C835.00,349.90 835.70,348.35 837.30,343.90 C838.90,339.45 841.10,331.00 843.00,326.70 C844.90,322.40 846.48,319.53 848.70,318.10 C850.92,316.67 853.58,317.45 856.30,318.10 C859.02,318.75 862.13,322.35 865.00,322.00 C867.87,321.65 871.45,318.50 873.50,316.00 C875.55,313.50 876.05,310.17 877.30,307.00 C878.55,303.83 879.88,300.67 881.00,297.00 C882.12,293.33 883.00,288.75 884.00,285.00 C885.00,281.25 886.00,277.25 887.00,274.50 C888.00,271.75 888.75,269.63 890.00,268.50 C891.25,267.37 893.07,266.93 894.50,267.70 C895.93,268.47 897.23,271.28 898.60,273.10 C899.97,274.92 901.33,278.13 902.70,278.60 C904.07,279.07 905.45,277.72 906.80,275.90 C908.15,274.08 909.55,271.12 910.80,267.70 C912.05,264.28 913.38,258.82 914.30,255.40 C915.22,251.98 915.52,250.15 916.30,247.20 C917.08,244.25 918.05,239.57 919.00,237.70 C919.95,235.83 920.87,235.55 922.00,236.00 C923.13,236.45 924.48,238.40 925.80,240.40 C927.12,242.40 928.42,248.68 929.90,248.00 C931.38,247.32 933.22,240.52 934.70,236.30 C936.18,232.08 937.55,226.78 938.80,222.70 C940.05,218.62 941.18,214.42 942.20,211.80 C943.22,209.18 943.98,207.00 944.90,207.00 C945.82,207.00 946.67,209.87 947.70,211.80 C948.73,213.73 949.87,219.07 951.10,218.60 C952.33,218.13 953.97,212.42 955.10,209.00 C956.23,205.58 956.98,201.15 957.90,198.10 C958.82,195.05 959.58,192.73 960.60,190.70" fill="none" stroke="#2ca02c" stroke-width="3.65" stroke-linejoin="round" stroke-dasharray="23.39 5.85 3.65 5.85" stroke-dashoffset="36.70"/>
<path d="M960.60,190.70 C961.62,188.67 962.87,185.33 964.00,185.90 C965.13,186.47 966.38,191.60 967.40,194.10 C968.42,196.60 969.18,200.90 970.10,200.90 C971.02,200.90 972.10,197.05 972.90,194.10 C973.70,191.15 974.22,186.83 974.90,183.20 C975.58,179.57 976.32,175.03 977.00,172.30 C977.68,169.57 978.22,166.35 979.00,166.80 C979.78,167.25 980.67,172.08 981.70,175.00 C982.73,177.92 984.33,184.13 985.20,184.30 C986.07,184.47 986.35,179.22 986.90,176.00 C987.45,172.78 987.97,168.58 988.50,165.00 C989.03,161.42 989.58,156.47 990.10,154.50 C990.62,152.53 991.05,152.95 991.60,153.20 C992.15,153.45 992.77,155.28 993.40,156.00 C994.03,156.72 995.07,157.25 995.40,157.50" fill="none" stroke="#2ca02c" stroke-width="3.65" stroke-linejoin="round" stroke-dasharray="23.39 5.85 3.65 5.85" stroke-dashoffset="31.44"/>
<path d="M147.90,8.42 C148.57,9.77 150.57,13.86 151.90,16.53 C153.23,19.20 154.57,21.82 155.90,24.42 C157.23,27.01 158.57,29.57 159.90,32.09 C161.23,34.62 162.57,37.11 163.90,39.58 C165.23,42.05 166.57,44.48 167.90,46.90 C169.23,49.31 170.57,51.69 171.90,54.06 C173.23,56.42 174.57,58.76 175.90,61.08 C177.23,63.40 178.57,65.70 179.90,67.99 C181.23,70.27 182.57,72.54 183.90,74.79 C185.23,77.05 186.57,79.29 187.90,81.52 C189.23,83.74 190.57,85.96 191.90,88.17 C193.23,90.38 194.57,92.58 195.90,94.78 C197.23,96.98 198.57,99.17 199.90,101.36 C201.23,103.55 202.57,105.73 203.90,107.92 C205.23,110.11 206.57,112.30 207.90,114.49 C209.23,116.68 210.57,118.87 211.90,121.05 C213.23,123.24 214.57,125.42 215.90,127.60 C217.23,129.78 218.57,131.96 219.90,134.13 C221.23,136.31 222.57,138.47 223.90,140.63 C225.23,142.79 226.57,144.95 227.90,147.09 C229.23,149.24 230.57,151.38 231.90,153.50 C233.23,155.63 234.57,157.75 235.90,159.85 C237.23,161.96 238.57,164.05 239.90,166.13 C241.23,168.21 242.57,170.28 243.90,172.34 C245.23,174.39 246.57,176.43 247.90,178.45 C249.23,180.47 250.57,182.48 251.90,184.47 C253.23,186.46 254.57,188.43 255.90,190.38 C257.23,192.34 258.57,194.28 259.90,196.20 C261.23,198.13 262.57,200.04 263.90,201.93 C265.23,203.83 266.57,205.71 267.90,207.58 C269.23,209.45 270.57,211.31 271.90,213.15 C273.23,215.00 274.57,216.84 275.90,218.67 C277.23,220.51 278.57,222.33 279.90,224.15 C281.23,225.98 282.57,227.80 283.90,229.62 C285.23,231.44 286.57,233.26 287.90,235.07 C289.23,236.89 290.57,238.71 291.90,240.53 C293.23,242.34 294.57,244.16 295.90,245.97 C297.23,247.78 298.57,249.59 299.90,251.39 C301.23,253.20 302.57,255.00 303.90,256.79 C305.23,258.59 306.57,260.38 307.90,262.16 C309.23,263.95 310.57,265.73 311.90,267.50 C313.23,269.27 314.57,271.04 315.90,272.80 C317.23,274.55 318.57,276.31 319.90,278.05 C321.23,279.79 322.57,281.52 323.90,283.25 C325.23,284.97 326.57,286.69 327.90,288.40 C329.23,290.11 330.57,291.82 331.90,293.51 C333.23,295.21 334.57,296.90 335.90,298.58 C337.23,300.27 338.57,301.94 339.90,303.61 C341.23,305.29 342.57,306.95 343.90,308.61 C345.23,310.27 346.57,311.92 347.90,313.57 C349.23,315.22 350.57,316.87 351.90,318.51 C353.23,320.15 354.57,321.78 355.90,323.41 C357.23,325.04 358.57,326.67 359.90,328.29 C361.23,329.91 362.57,331.53 363.90,333.15 C365.23,334.77 366.57,336.38 367.90,337.99 C369.23,339.60 370.57,341.20 371.90,342.81 C373.23,344.41 374.57,346.02 375.90,347.62 C377.23,349.22 378.57,350.81 379.90,352.41 C381.23,354.01 382.57,355.60 383.90,357.20 C385.23,358.79 386.57,360.39 387.90,361.98 C389.23,363.57 390.57,365.16 391.90,366.75 C393.23,368.34 394.57,369.92 395.90,371.50 C397.23,373.09 398.57,374.66 399.90,376.24 C401.23,377.81 402.57,379.38 403.90,380.95 C405.23,382.51 406.57,384.07 407.90,385.62 C409.23,387.17 410.57,388.72 411.90,390.26 C413.23,391.80 414.57,393.33 415.90,394.85 C417.23,396.37 418.57,397.89 419.90,399.39 C421.23,400.90 422.57,402.39 423.90,403.88 C425.23,405.36 426.57,406.84 427.90,408.31 C429.23,409.77 430.57,411.23 431.90,412.69 C433.23,414.14 434.57,415.58 435.90,417.03 C437.23,418.47 438.57,419.90 439.90,421.33 C441.23,422.76 442.57,424.19 443.90,425.61 C445.23,427.03 446.57,428.45 447.90,429.87 C449.23,431.29 450.57,432.71 451.90,434.13 C453.23,435.54 454.57,436.96 455.90,438.38 C457.23,439.79 458.57,441.21 459.90,442.63 C461.23,444.05 462.57,445.48 463.90,446.90 C465.23,448.33 466.57,449.76 467.90,451.18 C469.23,452.61 470.57,454.04 471.90,455.46 C473.23,456.88 474.57,458.30 475.90,459.70 C477.23,461.11 478.57,462.51 479.90,463.89 C481.23,465.27 482.57,466.65 483.90,468.00 C485.23,469.36 486.57,470.70 487.90,472.01 C489.23,473.33 490.57,474.63 491.90,475.91 C493.23,477.18 494.57,478.43 495.90,479.65 C497.23,480.87 498.57,482.07 499.90,483.23 C501.23,484.39 502.57,485.53 503.90,486.62 C505.23,487.72 506.57,488.78 507.90,489.80 C509.23,490.82 510.57,491.80 511.90,492.74 C513.23,493.68 514.57,494.57 515.90,495.43 C517.23,496.28 518.57,497.10 519.90,497.87 C521.23,498.64 522.57,499.37 523.90,500.07 C525.23,500.76 526.57,501.41 527.90,502.03 C529.23,502.64 530.57,503.22 531.90,503.76 C533.23,504.31 534.57,504.81 535.90,505.28 C537.23,505.75 538.57,506.18 539.90,506.58 C541.23,506.98 542.57,507.34 543.90,507.68 C545.23,508.01 546.57,508.31 547.90,508.57 C549.23,508.84 550.57,509.08 551.90,509.28 C553.23,509.49 554.57,509.66 555.90,509.81 C557.23,509.95 558.57,510.07 559.90,510.16 C561.23,510.24 562.57,510.30 563.90,510.34 C565.23,510.37 566.57,510.37 567.90,510.35 C569.23,510.33 570.57,510.29 571.90,510.22 C573.23,510.15 574.57,510.06 575.90,509.94 C577.23,509.82 578.57,509.68 579.90,509.52 C581.23,509.36 582.57,509.17 583.90,508.97 C585.23,508.76 586.57,508.54 587.90,508.29 C589.23,508.05 590.57,507.78 591.90,507.50 C593.23,507.22 594.57,506.91 595.90,506.60 C597.23,506.28 598.57,505.94 599.90,505.59 C601.23,505.24 602.57,504.87 603.90,504.49 C605.23,504.11 606.57,503.71 607.90,503.31 C609.23,502.90 610.57,502.47 611.90,502.04 C613.23,501.61 614.57,501.16 615.90,500.70 C617.23,500.24 618.57,499.78 619.90,499.30 C621.23,498.82 622.57,498.33 623.90,497.84 C625.23,497.34 626.57,496.84 627.90,496.32 C629.23,495.81 630.57,495.29 631.90,494.76 C633.23,494.24 634.57,493.70 635.90,493.16 C637.23,492.62 638.57,492.08 639.90,491.53 C641.23,490.98 642.57,490.42 643.90,489.86 C645.23,489.30 646.57,488.74 647.90,488.17 C649.23,487.61 650.57,487.04 651.90,486.46 C653.23,485.89 654.57,485.32 655.90,484.74 C657.23,484.17 658.57,483.59 659.90,483.01 C661.23,482.43 662.57,481.85 663.90,481.28 C665.23,480.70 666.57,480.12 667.90,479.55 C669.23,478.97 670.57,478.40 671.90,477.82 C673.23,477.25 674.57,476.68 675.90,476.12 C677.23,475.55 678.57,474.99 679.90,474.43 C681.23,473.87 682.57,473.31 683.90,472.76 C685.23,472.21 686.57,471.66 687.90,471.12 C689.23,470.58 690.57,470.04 691.90,469.50 C693.23,468.97 694.57,468.43 695.90,467.91 C697.23,467.38 698.57,466.85 699.90,466.33 C701.23,465.80 702.57,465.28 703.90,464.76 C705.23,464.24 706.57,463.72 707.90,463.21 C709.23,462.69 710.57,462.18 711.90,461.66 C713.23,461.15 714.57,460.64 715.90,460.13 C717.23,459.62 718.57,459.11 719.90,458.60 C721.23,458.09 722.57,457.58 723.90,457.07 C725.23,456.55 726.57,456.04 727.90,455.53 C729.23,455.02 730.57,454.51 731.90,454.00 C733.23,453.49 734.57,452.97 735.90,452.46 C737.23,451.94 738.57,451.42 739.90,450.91 C741.23,450.39 742.57,449.87 743.90,449.35 C745.23,448.82 746.57,448.30 747.90,447.77 C749.23,447.25 750.57,446.72 751.90,446.19 C753.23,445.66 754.57,445.13 755.90,444.60 C757.23,444.06 758.57,443.53 759.90,442.99 C761.23,442.45 762.57,441.91 763.90,441.37 C765.23,440.82 766.57,440.28 767.90,439.73 C769.23,439.18 770.57,438.63 771.90,438.08 C773.23,437.53 774.57,436.97 775.90,436.42 C777.23,435.86 778.57,435.30 779.90,434.73 C781.23,434.17 782.57,433.60 783.90,433.04 C785.23,432.47 786.57,431.89 787.90,431.32 C789.23,430.74 790.57,430.17 791.90,429.59 C793.23,429.01 794.57,428.42 795.90,427.83 C797.23,427.25 798.57,426.66 799.90,426.07 C801.23,425.48 802.57,424.89 803.90,424.30 C805.23,423.70 806.57,423.11 807.90,422.52 C809.23,421.93 810.57,421.33 811.90,420.74 C813.23,420.15 814.57,419.55 815.90,418.96 C817.23,418.37 818.57,417.78 819.90,417.19 C821.23,416.61 822.57,416.02 823.90,415.43 C825.23,414.85 826.57,414.27 827.90,413.68 C829.23,413.10 830.57,412.52 831.90,411.94 C833.23,411.36 834.57,410.78 835.90,410.21 C837.23,409.63 838.57,409.06 839.90,408.48 C841.23,407.91 842.57,407.34 843.90,406.77 C845.23,406.20 846.57,405.63 847.90,405.06 C849.23,404.50 850.57,403.93 851.90,403.37 C853.23,402.81 854.57,402.24 855.90,401.68 C857.23,401.12 858.57,400.56 859.90,400.01 C861.23,399.45 862.57,398.89 863.90,398.34 C865.23,397.78 866.57,397.23 867.90,396.67 C869.23,396.12 870.57,395.56 871.90,395.00 C873.23,394.44 874.57,393.88 875.90,393.31 C877.23,392.74 878.57,392.17 879.90,391.59 C881.23,391.01 882.57,390.43 883.90,389.83 C885.23,389.24 886.57,388.64 887.90,388.03 C889.23,387.41 890.57,386.80 891.90,386.16 C893.23,385.53 894.57,384.89 895.90,384.23 C897.23,383.57 898.57,382.90 899.90,382.22 C901.23,381.53 902.57,380.83 903.90,380.12 C905.23,379.40 906.57,378.67 907.90,377.92 C909.23,377.17 910.57,376.40 911.90,375.62 C913.23,374.84 914.57,374.04 915.90,373.23 C917.23,372.41 918.57,371.58 919.90,370.74 C921.23,369.90 922.57,369.04 923.90,368.17 C925.23,367.30 926.57,366.41 927.90,365.51 C929.23,364.61 930.57,363.70 931.90,362.77 C933.23,361.84 934.57,360.89 935.90,359.93 C937.23,358.96 938.57,357.97 939.90,356.96 C941.23,355.94 942.57,354.91 943.90,353.84 C945.23,352.77 946.57,351.68 947.90,350.55 C949.23,349.42 950.57,348.26 951.90,347.06 C953.23,345.86 954.57,344.63 955.90,343.35 C957.23,342.08 958.57,340.77 959.90,339.41 C961.23,338.04 962.57,336.64 963.90,335.19 C965.23,333.74 966.57,332.24 967.90,330.69 C969.23,329.13 970.57,327.53 971.90,325.87 C973.23,324.21 974.57,322.50 975.90,320.72 C977.23,318.94 978.57,317.11 979.90,315.21 C981.23,313.31 982.57,311.35 983.90,309.32 C985.23,307.29 986.57,305.19 987.90,303.02 C989.23,300.85 990.65,298.46 991.90,296.29 C993.15,294.13 994.82,291.08 995.40,290.04" fill="none" stroke="#9467bd" stroke-width="3.65" stroke-linejoin="round" stroke-dasharray="3.65 6.03" stroke-dashoffset="3.90"/>
<path d="M126.20,173.50 C126.87,174.30 128.87,176.71 130.20,178.32 C131.53,179.92 132.87,181.52 134.20,183.12 C135.53,184.72 136.87,186.31 138.20,187.90 C139.53,189.50 140.87,191.08 142.20,192.67 C143.53,194.26 144.87,195.84 146.20,197.42 C147.53,199.00 148.87,200.58 150.20,202.16 C151.53,203.73 152.87,205.31 154.20,206.88 C155.53,208.45 156.87,210.02 158.20,211.59 C159.53,213.16 160.87,214.73 162.20,216.29 C163.53,217.86 164.87,219.42 166.20,220.98 C167.53,222.54 168.87,224.10 170.20,225.66 C171.53,227.22 172.87,228.78 174.20,230.34 C175.53,231.89 176.87,233.45 178.20,235.00 C179.53,236.56 180.87,238.11 182.20,239.67 C183.53,241.22 184.87,242.77 186.20,244.32 C187.53,245.88 188.87,247.43 190.20,248.98 C191.53,250.53 192.87,252.08 194.20,253.63 C195.53,255.18 196.87,256.73 198.20,258.28 C199.53,259.84 200.87,261.39 202.20,262.94 C203.53,264.49 204.87,266.04 206.20,267.59 C207.53,269.15 208.87,270.70 210.20,272.25 C211.53,273.81 212.87,275.36 214.20,276.91 C215.53,278.47 216.87,280.03 218.20,281.58 C219.53,283.14 220.87,284.70 222.20,286.26 C223.53,287.82 224.87,289.38 226.20,290.94 C227.53,292.50 228.87,294.06 230.20,295.62 C231.53,297.18 232.87,298.75 234.20,300.31 C235.53,301.87 236.87,303.44 238.20,305.01 C239.53,306.57 240.87,308.14 242.20,309.71 C243.53,311.27 244.87,312.84 246.20,314.41 C247.53,315.98 248.87,317.55 250.20,319.12 C251.53,320.69 252.87,322.26 254.20,323.83 C255.53,325.41 256.87,326.98 258.20,328.55 C259.53,330.13 260.87,331.70 262.20,333.27 C263.53,334.85 264.87,336.42 266.20,338.00 C267.53,339.58 268.87,341.15 270.20,342.73 C271.53,344.31 272.87,345.88 274.20,347.46 C275.53,349.04 276.87,350.62 278.20,352.20 C279.53,353.78 280.87,355.36 282.20,356.94 C283.53,358.52 284.87,360.10 286.20,361.68 C287.53,363.26 288.87,364.84 290.20,366.43 C291.53,368.01 292.87,369.59 294.20,371.17 C295.53,372.76 296.87,374.34 298.20,375.93 C299.53,377.51 300.87,379.09 302.20,380.68 C303.53,382.26 304.87,383.85 306.20,385.43 C307.53,387.02 308.87,388.60 310.20,390.19 C311.53,391.78 312.87,393.36 314.20,394.95 C315.53,396.53 316.87,398.12 318.20,399.71 C319.53,401.29 320.87,402.88 322.20,404.47 C323.53,406.06 324.87,407.64 326.20,409.23 C327.53,410.82 328.87,412.41 330.20,413.99 C331.53,415.58 332.87,417.17 334.20,418.76 C335.53,420.34 336.87,421.93 338.20,423.51 C339.53,425.09 340.87,426.68 342.20,428.26 C343.53,429.84 344.87,431.42 346.20,432.99 C347.53,434.57 348.87,436.14 350.20,437.71 C351.53,439.28 352.87,440.85 354.20,442.42 C355.53,443.98 356.87,445.54 358.20,447.10 C359.53,448.65 360.87,450.21 362.20,451.76 C363.53,453.30 364.87,454.85 366.20,456.39 C367.53,457.92 368.87,459.46 370.20,460.99 C371.53,462.51 372.87,464.04 374.20,465.55 C375.53,467.07 376.87,468.58 378.20,470.08 C379.53,471.59 380.87,473.08 382.20,474.57 C383.53,476.06 384.87,477.55 386.20,479.02 C387.53,480.49 388.87,481.96 390.20,483.42 C391.53,484.88 392.87,486.33 394.20,487.77 C395.53,489.22 396.87,490.65 398.20,492.07 C399.53,493.50 400.87,494.91 402.20,496.32 C403.53,497.72 404.87,499.12 406.20,500.50 C407.53,501.89 408.87,503.26 410.20,504.63 C411.53,506.00 412.87,507.35 414.20,508.71 C415.53,510.07 416.87,511.42 418.20,512.78 C419.53,514.13 420.87,515.49 422.20,516.85 C423.53,518.22 424.87,519.59 426.20,520.97 C427.53,522.36 428.87,523.75 430.20,525.16 C431.53,526.57 432.87,528.01 434.20,529.45 C435.53,530.88 436.87,532.35 438.20,533.80 C439.53,535.24 440.87,536.70 442.20,538.13 C443.53,539.55 444.87,540.96 446.20,542.34 C447.53,543.72 448.87,545.07 450.20,546.39 C451.53,547.71 452.87,549.00 454.20,550.26 C455.53,551.52 456.87,552.75 458.20,553.95 C459.53,555.15 460.87,556.33 462.20,557.46 C463.53,558.60 464.87,559.71 466.20,560.79 C467.53,561.87 468.87,562.91 470.20,563.93 C471.53,564.94 472.87,565.92 474.20,566.87 C475.53,567.81 476.87,568.73 478.20,569.61 C479.53,570.49 480.87,571.34 482.20,572.15 C483.53,572.96 484.87,573.74 486.20,574.48 C487.53,575.23 488.87,575.94 490.20,576.61 C491.53,577.28 492.87,577.92 494.20,578.52 C495.53,579.12 496.87,579.68 498.20,580.21 C499.53,580.74 500.87,581.23 502.20,581.68 C503.53,582.13 504.87,582.55 506.20,582.93 C507.53,583.30 508.87,583.64 510.20,583.94 C511.53,584.24 512.87,584.50 514.20,584.72 C515.53,584.94 516.87,585.12 518.20,585.26 C519.53,585.40 520.87,585.50 522.20,585.57 C523.53,585.63 524.87,585.66 526.20,585.65 C527.53,585.64 528.87,585.59 530.20,585.51 C531.53,585.43 532.87,585.32 534.20,585.18 C535.53,585.04 536.87,584.87 538.20,584.67 C539.53,584.47 540.87,584.23 542.20,583.98 C543.53,583.73 544.87,583.44 546.20,583.14 C547.53,582.84 548.87,582.51 550.20,582.16 C551.53,581.81 552.87,581.44 554.20,581.05 C555.53,580.67 556.87,580.26 558.20,579.83 C559.53,579.41 560.87,578.97 562.20,578.52 C563.53,578.06 564.87,577.59 566.20,577.11 C567.53,576.64 568.87,576.14 570.20,575.64 C571.53,575.14 572.87,574.63 574.20,574.12 C575.53,573.60 576.87,573.07 578.20,572.55 C579.53,572.02 580.87,571.49 582.20,570.95 C583.53,570.42 584.87,569.88 586.20,569.34 C587.53,568.81 588.87,568.27 590.20,567.74 C591.53,567.20 592.87,566.67 594.20,566.14 C595.53,565.61 596.87,565.08 598.20,564.56 C599.53,564.03 600.87,563.51 602.20,562.98 C603.53,562.46 604.87,561.94 606.20,561.41 C607.53,560.89 608.87,560.37 610.20,559.85 C611.53,559.32 612.87,558.80 614.20,558.28 C615.53,557.75 616.87,557.23 618.20,556.70 C619.53,556.18 620.87,555.65 622.20,555.12 C623.53,554.59 624.87,554.06 626.20,553.53 C627.53,552.99 628.87,552.46 630.20,551.92 C631.53,551.38 632.87,550.84 634.20,550.30 C635.53,549.75 636.87,549.20 638.20,548.65 C639.53,548.10 640.87,547.54 642.20,546.98 C643.53,546.42 644.87,545.86 646.20,545.29 C647.53,544.72 648.87,544.14 650.20,543.56 C651.53,542.98 652.87,542.39 654.20,541.80 C655.53,541.21 656.87,540.61 658.20,540.00 C659.53,539.40 660.87,538.79 662.20,538.17 C663.53,537.55 664.87,536.92 666.20,536.29 C667.53,535.65 668.87,535.01 670.20,534.36 C671.53,533.71 672.87,533.05 674.20,532.39 C675.53,531.72 676.87,531.04 678.20,530.36 C679.53,529.67 680.87,528.98 682.20,528.27 C683.53,527.57 684.87,526.85 686.20,526.13 C687.53,525.40 688.87,524.67 690.20,523.92 C691.53,523.18 692.87,522.42 694.20,521.65 C695.53,520.88 696.87,520.10 698.20,519.31 C699.53,518.52 700.87,517.71 702.20,516.89 C703.53,516.08 704.87,515.25 706.20,514.41 C707.53,513.56 708.87,512.71 710.20,511.84 C711.53,510.97 712.87,510.09 714.20,509.19 C715.53,508.29 716.87,507.38 718.20,506.46 C719.53,505.53 720.87,504.59 722.20,503.63 C723.53,502.68 724.87,501.71 726.20,500.72 C727.53,499.73 728.87,498.73 730.20,497.71 C731.53,496.69 732.87,495.66 734.20,494.60 C735.53,493.55 736.87,492.48 738.20,491.40 C739.53,490.31 740.87,489.21 742.20,488.08 C743.53,486.96 744.87,485.82 746.20,484.66 C747.53,483.50 748.87,482.32 750.20,481.12 C751.53,479.92 752.87,478.70 754.20,477.46 C755.53,476.22 756.87,474.95 758.20,473.66 C759.53,472.38 760.87,471.07 762.20,469.73 C763.53,468.39 764.87,467.04 766.20,465.65 C767.53,464.26 768.87,462.85 770.20,461.42 C771.53,459.98 772.87,458.51 774.20,457.02 C775.53,455.53 776.87,454.01 778.20,452.46 C779.53,450.91 780.87,449.33 782.20,447.72 C783.53,446.11 784.87,444.47 786.20,442.80 C787.53,441.13 788.87,439.43 790.20,437.69 C791.53,435.95 792.87,434.19 794.20,432.38 C795.53,430.58 796.87,428.74 798.20,426.87 C799.53,425.00 800.87,423.09 802.20,421.15 C803.53,419.21 804.87,417.22 806.20,415.21 C807.53,413.21 808.87,411.16 810.20,409.12 C811.53,407.07 812.87,405.01 814.20,402.96 C815.53,400.92 816.87,398.86 818.20,396.85 C819.53,394.83 820.87,392.82 822.20,390.87 C823.53,388.91 824.87,386.98 826.20,385.12 C827.53,383.26 828.87,381.44 830.20,379.70 C831.53,377.97 833.23,375.90 834.20,374.72 C835.17,373.54 834.85,373.96 836.00,372.64 C837.15,371.32 838.67,368.72 841.10,366.80 C843.53,364.88 847.10,363.65 850.60,361.10 C854.10,358.55 858.92,354.68 862.10,351.50 C865.28,348.32 867.17,345.50 869.70,342.00 C872.23,338.50 874.75,334.63 877.30,330.50 C879.85,326.37 882.13,322.28 885.00,317.20 C887.87,312.12 891.78,305.07 894.50,300.00 C897.22,294.93 899.03,290.60 901.30,286.80 C903.57,283.00 905.60,280.38 908.10,277.20 C910.60,274.02 913.98,270.73 916.30,267.70 C918.62,264.67 919.73,261.28 922.00,259.00 C924.27,256.72 927.57,255.42 929.90,254.00 C932.23,252.58 934.52,251.40 936.00,250.50 C937.48,249.60 937.65,250.28 938.80,248.60 C939.95,246.92 941.53,243.58 942.90,240.40 C944.27,237.22 945.63,232.68 947.00,229.50 C948.37,226.32 949.85,223.12 951.10,221.30 C952.35,219.48 953.15,218.15 954.50,218.60 C955.85,219.05 957.50,221.38 959.20,224.00 C960.90,226.62 963.22,231.92 964.70,234.30 C966.18,236.68 966.97,238.08 968.10,238.30 C969.23,238.52 970.25,238.43 971.50,235.60 C972.75,232.77 974.35,227.08 975.60,221.30 C976.85,215.52 977.98,207.03 979.00,200.90 C980.02,194.77 980.90,189.17 981.70,184.50 C982.50,179.83 983.12,175.17 983.80,172.90 C984.48,170.63 984.90,170.67 985.80,170.90 C986.70,171.13 987.95,173.40 989.20,174.30 C990.45,175.20 992.27,175.85 993.30,176.30 C994.33,176.75 995.05,176.88 995.40,177.00" fill="none" stroke="#d62728" stroke-width="3.65" stroke-linejoin="round" stroke-linecap="square"/>
</g>
<rect x="126.20" y="8.90" width="869.20" height="649.60" fill="none" stroke="#000" stroke-width="1.95" stroke-linejoin="miter"/>
<line x1="237.20" y1="658.50" x2="237.20" y2="667.10" stroke="#000" stroke-width="1.95"/>
<line x1="355.88" y1="658.50" x2="355.88" y2="667.10" stroke="#000" stroke-width="1.95"/>
<line x1="474.55" y1="658.50" x2="474.55" y2="667.10" stroke="#000" stroke-width="1.95"/>
<line x1="593.22" y1="658.50" x2="593.22" y2="667.10" stroke="#000" stroke-width="1.95"/>
<line x1="711.90" y1="658.50" x2="711.90" y2="667.10" stroke="#000" stroke-width="1.95"/>
<line x1="830.58" y1="658.50" x2="830.58" y2="667.10" stroke="#000" stroke-width="1.95"/>
<line x1="949.25" y1="658.50" x2="949.25" y2="667.10" stroke="#000" stroke-width="1.95"/>
<line x1="117.60" y1="8.90" x2="126.20" y2="8.90" stroke="#000" stroke-width="1.95"/>
<line x1="117.60" y1="101.70" x2="126.20" y2="101.70" stroke="#000" stroke-width="1.95"/>
<line x1="117.60" y1="194.50" x2="126.20" y2="194.50" stroke="#000" stroke-width="1.95"/>
<line x1="117.60" y1="287.30" x2="126.20" y2="287.30" stroke="#000" stroke-width="1.95"/>
<line x1="117.60" y1="380.10" x2="126.20" y2="380.10" stroke="#000" stroke-width="1.95"/>
<line x1="117.60" y1="472.90" x2="126.20" y2="472.90" stroke="#000" stroke-width="1.95"/>
<line x1="117.60" y1="565.70" x2="126.20" y2="565.70" stroke="#000" stroke-width="1.95"/>
<line x1="117.60" y1="658.50" x2="126.20" y2="658.50" stroke="#000" stroke-width="1.95"/>
<rect x="210.05" y="686.05" width="15.33" height="2.03" fill="#000"/>
<text transform="translate(207.45,694.75)" x="21.13 36.39 44.38" y="0" font-size="25.96" fill="#000">3.5</text>
<rect x="328.73" y="686.05" width="15.33" height="2.03" fill="#000"/>
<text transform="translate(326.13,694.75)" x="21.13 36.39 44.47" y="0" font-size="25.96" fill="#000">3.0</text>
<rect x="447.40" y="686.05" width="15.33" height="2.03" fill="#000"/>
<text transform="translate(444.80,694.75)" x="20.77 36.39 44.38" y="0" font-size="25.96" fill="#000">2.5</text>
<rect x="566.08" y="686.05" width="15.33" height="2.03" fill="#000"/>
<text transform="translate(563.48,694.75)" x="20.77 36.39 44.47" y="0" font-size="25.96" fill="#000">2.0</text>
<rect x="684.75" y="686.05" width="15.33" height="2.03" fill="#000"/>
<text transform="translate(682.15,694.75)" x="20.96 36.39 44.38" y="0" font-size="25.96" fill="#000">1.5</text>
<rect x="803.43" y="686.05" width="15.33" height="2.03" fill="#000"/>
<text transform="translate(800.83,694.75)" x="20.96 36.39 44.47" y="0" font-size="25.96" fill="#000">1.0</text>
<rect x="922.10" y="686.05" width="15.33" height="2.03" fill="#000"/>
<text transform="translate(919.50,694.75)" x="21.10 36.39 44.38" y="0" font-size="25.96" fill="#000">0.5</text>
<rect x="36.47" y="9.90" width="15.33" height="2.03" fill="#000"/>
<text transform="translate(33.87,18.60)" x="20.96 36.68 51.98 60.06" y="0" font-size="25.96" fill="#000">18.0</text>
<rect x="36.47" y="102.70" width="15.33" height="2.03" fill="#000"/>
<text transform="translate(33.87,111.40)" x="20.96 36.68 51.98 59.97" y="0" font-size="25.96" fill="#000">18.5</text>
<rect x="36.47" y="195.50" width="15.33" height="2.03" fill="#000"/>
<text transform="translate(33.87,204.20)" x="20.96 36.61 51.98 60.06" y="0" font-size="25.96" fill="#000">19.0</text>
<rect x="36.47" y="288.30" width="15.33" height="2.03" fill="#000"/>
<text transform="translate(33.87,297.00)" x="20.96 36.61 51.98 59.97" y="0" font-size="25.96" fill="#000">19.5</text>
<rect x="36.47" y="381.10" width="15.33" height="2.03" fill="#000"/>
<text transform="translate(33.87,389.80)" x="20.77 36.68 51.98 60.06" y="0" font-size="25.96" fill="#000">20.0</text>
<rect x="36.47" y="473.90" width="15.33" height="2.03" fill="#000"/>
<text transform="translate(33.87,482.60)" x="20.77 36.68 51.98 59.97" y="0" font-size="25.96" fill="#000">20.5</text>
<rect x="36.47" y="566.70" width="15.33" height="2.03" fill="#000"/>
<text transform="translate(33.87,575.40)" x="20.77 36.55 51.98 60.06" y="0" font-size="25.96" fill="#000">21.0</text>
<rect x="36.47" y="659.50" width="15.33" height="2.03" fill="#000"/>
<text transform="translate(33.87,668.20)" x="20.77 36.55 51.98 59.97" y="0" font-size="25.96" fill="#000">21.5</text>
<text transform="translate(444.48,728.80) scale(1.0000,1)" x="0.52 7.12 22.30 37.71 46.16 60.64 69.40 84.57 100.28 115.74 131.11 146.05 160.38 173.98 183.61 202.34 216.31 226.93" y="0" font-size="26.07" fill="#000">log[Frequency(Hz)]</text>
<text transform="translate(19.10,552.21) rotate(-90) scale(1.0000,1)" x="0.52 7.08 22.17 37.50 45.87 64.47 78.77 95.58 103.82 119.40 134.02 142.85 158.71 168.12 174.45 188.26 197.25 203.47 217.25 224.80 238.61 248.25 256.49 272.65 279.51 294.70 301.55 318.36 341.71 357.05 363.86 371.25 380.21 395.63 411.11 427.92" y="0" font-size="25.92" fill="#000">log[Characteristic strain amplitude]</text>
<rect x="630.30" y="23.50" width="350.50" height="224.10" rx="5.85" ry="5.85" fill="#fff" fill-opacity="0.8" stroke="#ccc" stroke-opacity="0.8" stroke-width="2.45"/>
<line x1="642.00" y1="47.50" x2="700.20" y2="47.50" stroke="#1f77b4" stroke-width="3.65" stroke-dasharray="18.27 3.65"/>
<line x1="642.00" y1="90.70" x2="700.20" y2="90.70" stroke="#ff7f0e" stroke-width="3.65" stroke-dasharray="7.31 7.31"/>
<line x1="642.00" y1="133.90" x2="700.20" y2="133.90" stroke="#d62728" stroke-width="3.65" stroke-linecap="square"/>
<line x1="642.00" y1="177.00" x2="700.20" y2="177.00" stroke="#2ca02c" stroke-width="3.65" stroke-dasharray="23.39 5.85 3.65 5.85"/>
<line x1="642.00" y1="220.10" x2="700.20" y2="220.10" stroke="#9467bd" stroke-width="3.65" stroke-dasharray="3.65 6.03"/>
<text transform="translate(723.60,57.40) scale(1.0000,1)" x="-0.36 18.85 48.06 70.23 83.29 97.12 119.13 136.74 163.11 180.77 198.24" y="0" font-size="30.99" fill="#000">BWD(r=3Mpc)</text>
<text transform="translate(723.60,100.60) scale(1.0000,1)" x="-0.36 18.85 48.06 70.23 83.29 97.12 119.13 137.70 156.31 173.96 200.33 217.99 235.46" y="0" font-size="30.99" fill="#000">BWD(r=300Mpc)</text>
<text transform="translate(723.60,143.80) scale(1.0000,1)" x="-0.52 12.26 31.58 39.48 47.84" y="0" font-size="30.99" fill="#000">Taiji</text>
<text transform="translate(723.60,187.00) scale(1.0000,1)" x="0.13 16.30 24.03 43.69" y="0" font-size="30.99" fill="#000">LISA</text>
<text transform="translate(723.60,230.20) scale(1.0000,1)" x="-0.52 17.60 24.33 43.73 62.04 80.76 88.96" y="0" font-size="30.99" fill="#000">Tianqin</text>
</svg></body></html>
